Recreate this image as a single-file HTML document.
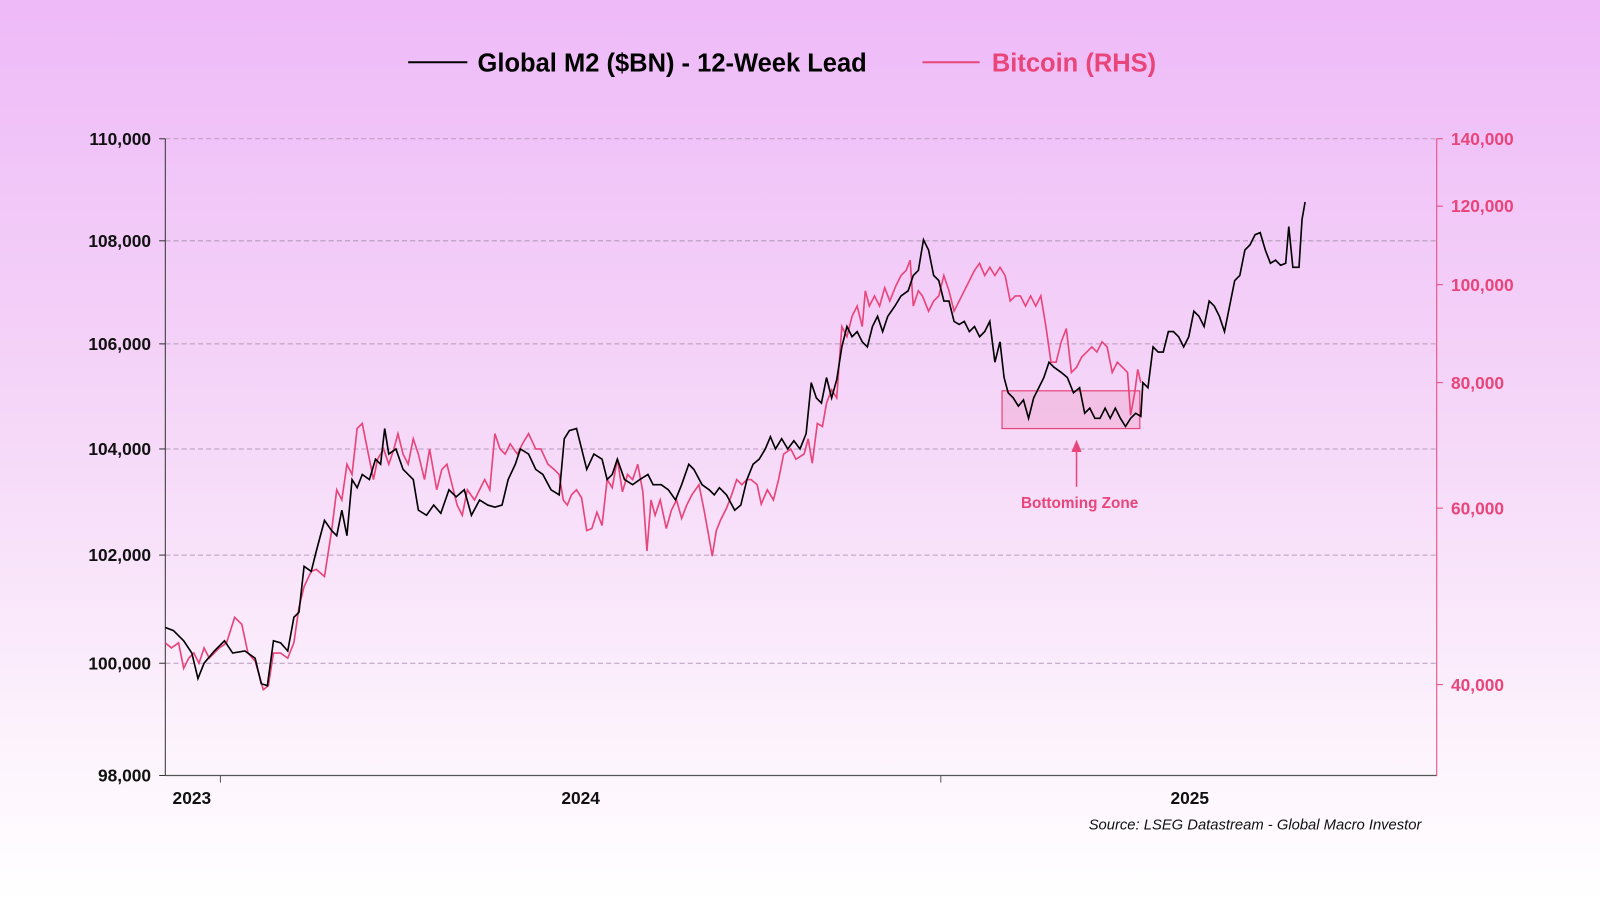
<!DOCTYPE html>
<html><head><style>
html{margin:0;padding:0;width:1600px;height:902px;background:linear-gradient(to bottom,#eebaf8 0%,#f5d6f8 45%,#fdf5fd 85%,#ffffff 100%);}
body{margin:0;padding:0;width:1600px;height:902px;background:linear-gradient(to bottom,#eebaf8 0%,#f5d6f8 45%,#fdf5fd 85%,#ffffff 100%);font-family:"Liberation Sans",sans-serif;overflow:hidden;}
svg{display:block;}
</style></head><body>
<svg width="1600" height="902" viewBox="0 0 1568 884" preserveAspectRatio="none" xmlns="http://www.w3.org/2000/svg" font-family="Liberation Sans, sans-serif">
<line x1="400" y1="61" x2="458" y2="61" stroke="#000" stroke-width="2"/>
<text x="468" y="70" font-size="25" font-weight="bold" fill="#000">Global M2 ($BN) - 12-Week Lead</text>
<line x1="904" y1="61" x2="960" y2="61" stroke="#e8457a" stroke-width="2"/>
<text x="972" y="70" font-size="25" font-weight="bold" fill="#e8457a">Bitcoin (RHS)</text>
<g stroke="#b79bbd" stroke-dasharray="5,3" stroke-width="1">
<line x1="162" y1="136" x2="1408" y2="136"/><line x1="162" y1="236" x2="1408" y2="236"/>
<line x1="162" y1="337" x2="1408" y2="337"/><line x1="162" y1="440" x2="1408" y2="440"/>
<line x1="162" y1="544" x2="1408" y2="544"/><line x1="162" y1="650" x2="1408" y2="650"/>
</g>
<g font-size="17" font-weight="bold" fill="#111" text-anchor="end">
<text x="148" y="142">110,000</text><text x="148" y="242">108,000</text><text x="148" y="343">106,000</text>
<text x="148" y="446">104,000</text><text x="148" y="550">102,000</text><text x="148" y="656">100,000</text><text x="148" y="766">98,000</text>
</g>
<g stroke="#333" stroke-width="1">
<line x1="162" y1="136" x2="162" y2="760"/>
<line x1="156" y1="136" x2="162" y2="136"/><line x1="156" y1="236" x2="162" y2="236"/><line x1="156" y1="337" x2="162" y2="337"/><line x1="156" y1="440" x2="162" y2="440"/><line x1="156" y1="544" x2="162" y2="544"/><line x1="156" y1="650" x2="162" y2="650"/><line x1="156" y1="760" x2="162" y2="760"/>
</g>
<line x1="162" y1="760" x2="1408" y2="760" stroke="#555" stroke-width="1.2"/>
<line x1="216" y1="760" x2="216" y2="767" stroke="#555"/><line x1="922" y1="760" x2="922" y2="767" stroke="#555"/>
<g font-size="17" font-weight="bold" fill="#111" text-anchor="middle">
<text x="188" y="788">2023</text><text x="569" y="788">2024</text><text x="1166" y="788">2025</text>
</g>
<g stroke="#e8457a" stroke-width="1">
<line x1="1408" y1="136" x2="1408" y2="760"/>
<line x1="1408" y1="136" x2="1414" y2="136"/><line x1="1408" y1="202" x2="1414" y2="202"/><line x1="1408" y1="279" x2="1414" y2="279"/><line x1="1408" y1="375" x2="1414" y2="375"/><line x1="1408" y1="498" x2="1414" y2="498"/><line x1="1408" y1="671" x2="1414" y2="671"/>
</g>
<g font-size="17" font-weight="bold" fill="#e8457a">
<text x="1422" y="142">140,000</text><text x="1422" y="208">120,000</text><text x="1422" y="285">100,000</text><text x="1422" y="381">80,000</text><text x="1422" y="504">60,000</text><text x="1422" y="677">40,000</text>
</g>
<rect x="982" y="383" width="135" height="37" fill="rgba(232,69,122,0.15)" stroke="#e8457a" stroke-width="1.2"/>
<polyline fill="none" stroke="#e8457a" stroke-width="1.6" points="162,630 168,635 175,630 180,655 185,645 190,640 195,650 200,635 205,645 210,640 215,635 222,630 230,605 237,612 243,640 250,648 255,665 258,676 263,672 268,640 275,640 282,645 288,630 293,595 298,575 305,560 310,558 318,565 325,520 330,480 335,490 340,455 345,465 350,420 355,415 360,440 366,470 370,450 376,440 381,455 386,440 390,425 395,445 400,455 405,430 410,445 416,470 421,440 428,480 433,460 438,455 443,475 448,495 453,505 458,480 465,490 470,480 475,470 480,480 485,425 490,440 495,445 500,435 507,445 512,435 518,425 525,440 530,440 537,455 543,460 548,465 552,490 556,495 560,485 565,480 570,488 575,520 580,518 585,502 590,515 595,470 600,478 605,450 610,482 615,465 620,470 625,455 630,482 634,540 638,490 642,505 647,490 653,518 658,500 663,490 668,508 673,495 678,485 685,475 690,500 694,522 698,545 702,520 706,510 712,498 717,485 722,470 727,475 732,470 736,470 742,475 746,494 752,480 758,490 763,470 768,445 775,440 780,450 788,445 792,430 796,454 801,415 806,418 810,395 815,382 820,390 825,320 830,330 835,310 840,300 845,320 848,285 852,300 857,290 862,300 867,282 872,295 878,280 883,270 888,265 892,255 895,300 900,285 904,290 910,305 915,295 920,290 925,270 930,285 935,305 940,295 945,285 950,275 955,265 960,258 965,270 970,262 975,270 980,262 985,270 990,295 995,290 1000,290 1005,300 1010,290 1015,300 1020,290 1025,320 1030,355 1035,355 1040,335 1045,322 1050,365 1055,360 1060,350 1065,345 1070,340 1075,345 1080,335 1085,340 1090,365 1095,355 1100,360 1105,365 1108,407 1112,385 1115,362 1118,375"/>
<polyline fill="none" stroke="#000" stroke-width="1.6" points="162,615 170,618 180,628 188,640 194,665 200,650 210,638 220,628 228,640 240,638 250,645 256,670 262,672 268,628 275,630 282,638 288,605 293,600 298,555 305,560 310,540 318,510 325,520 330,525 335,500 340,525 345,470 350,478 355,465 362,470 368,450 373,455 377,420 381,445 388,440 395,460 400,465 405,470 410,500 418,505 425,495 432,503 440,480 447,487 455,480 462,505 470,490 478,495 485,497 492,495 498,470 505,455 510,440 518,445 525,460 532,465 540,480 548,485 553,430 558,422 565,420 570,440 575,460 582,445 590,450 595,470 600,465 605,450 612,470 620,475 627,470 635,465 640,475 648,475 655,480 662,490 668,475 675,455 680,460 688,475 695,480 700,485 705,478 712,485 720,500 726,495 732,470 738,455 744,450 750,440 755,428 760,440 766,430 772,440 778,432 784,440 790,425 795,375 800,390 805,395 810,370 815,390 820,372 825,340 830,320 835,330 840,325 845,335 850,340 855,320 860,310 865,325 870,310 877,300 883,290 890,285 895,270 900,265 905,235 910,245 915,270 920,275 925,295 930,295 935,315 940,318 945,315 950,325 955,320 960,330 965,325 970,315 975,355 980,335 984,370 988,385 993,390 998,398 1003,392 1008,410 1013,390 1018,380 1023,370 1028,355 1033,360 1040,365 1046,370 1052,385 1058,380 1063,405 1068,400 1073,410 1078,410 1083,400 1088,410 1093,400 1098,410 1103,418 1108,410 1113,405 1118,408 1120,375 1125,380 1130,340 1135,345 1140,345 1145,325 1150,325 1155,330 1160,340 1165,330 1170,305 1175,310 1180,320 1185,295 1190,300 1195,310 1200,325 1205,300 1210,275 1215,270 1220,245 1225,240 1230,230 1235,228 1240,245 1245,258 1250,255 1255,260 1260,258 1263,222 1267,262 1273,262 1276,215 1279,198"/>
<line x1="1055" y1="477" x2="1055" y2="440" stroke="#e8457a" stroke-width="1.5"/>
<polygon points="1055,431 1050,443 1060,443" fill="#e8457a"/>
<text x="1058" y="498" font-size="15" font-weight="bold" fill="#e8457a" text-anchor="middle">Bottoming Zone</text>
<text x="1393" y="813" font-size="14.5" font-style="italic" fill="#111" text-anchor="end">Source: LSEG Datastream - Global Macro Investor</text>
</svg>
</body></html>
